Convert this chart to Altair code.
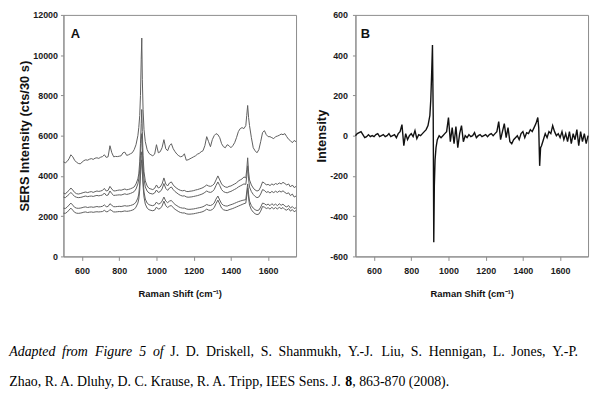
import altair as alt
import pandas as pd

# Raman shift sampling positions (cm^-1)
shift = [500, 510, 520, 530, 540, 550, 560, 570, 580, 590,
         600, 610, 620, 630, 640, 650, 660, 670, 680, 690,
         700, 710, 720, 730, 740, 750, 760, 770, 780, 790,
         800, 810, 820, 830, 840, 850, 860, 870, 880,
         890, 900, 905, 910, 914, 918, 921, 924, 928, 933, 940, 950,
         960, 970, 980, 990, 1000, 1010, 1020, 1030, 1040, 1050,
         1060, 1070, 1080, 1090, 1100, 1110, 1120, 1130, 1140, 1150,
         1160, 1170, 1180, 1190, 1200, 1210, 1220, 1230, 1240, 1250,
         1260, 1270, 1280, 1290, 1300, 1310, 1320, 1330, 1340, 1350,
         1360, 1370, 1380, 1390, 1400, 1410, 1420, 1430, 1440, 1450,
         1460, 1470,
         1480, 1485, 1490, 1495, 1500,
         1510, 1520, 1530, 1540, 1550, 1560, 1570, 1580, 1590, 1600,
         1610, 1620, 1630, 1640, 1650, 1660, 1670, 1680, 1690, 1700,
         1710, 1720, 1730, 1740, 1750]

# Panel A: SERS spectra (cts/30 s)
spec1 = [4700, 4650, 4720, 4850, 5050, 4950, 4780, 4680, 4620, 4600,
         4680, 4760, 4800, 4780, 4830, 4860, 4820, 4880, 4900, 4870,
         4930, 4960, 5050, 4920, 4950, 5500, 5150, 4950, 4970, 4960,
         4980, 5000, 5150, 5180, 5020, 5050, 5100, 5150, 5300,
         5550, 6000, 6400, 7000, 8000, 9800, 10850, 8800, 7300, 6300, 5700, 5300,
         5120, 5050, 5000, 5080, 5550, 5150, 5200, 5400, 5800, 5350,
         5250, 5500, 5600, 5350, 5200, 5080, 5000, 4950, 4980, 5100,
         4780, 4800, 4850, 4900, 4950, 5000, 5080, 5120, 5200, 5250,
         5500, 5950, 5700, 5450, 5800, 6000, 6100, 6050, 5900, 5600,
         5450, 5400, 5550, 5500, 5400, 5500, 5650, 5900, 6200, 6350,
         6400, 6350,
         6500, 7000, 7500, 6900, 6500,
         5900, 5400, 5250, 5150, 5300, 5700, 6150, 6250, 6050, 5950,
         5950, 5900, 5850, 5950, 5980, 6020, 6080, 6050, 6100, 5950,
         5820, 5750, 5650, 5760, 5700]
spec2 = [3150, 3100, 3200, 3280, 3400, 3300, 3180, 3120, 3100, 3120,
         3150, 3180, 3200, 3170, 3200, 3220, 3180, 3220, 3250, 3230,
         3250, 3280, 3380, 3250, 3280, 3480, 3350, 3250, 3260, 3280,
         3300, 3290, 3320, 3350, 3310, 3330, 3360, 3400, 3450,
         3600, 3850, 4100, 4700, 5600, 6600, 7300, 6200, 5000, 4200, 3750, 3500,
         3380, 3350, 3320, 3380, 3550, 3400, 3450, 3600, 3900, 3600,
         3500, 3650, 3700, 3550, 3450, 3380, 3320, 3280, 3260, 3280,
         3230, 3220, 3240, 3250, 3270, 3300, 3320, 3350, 3380, 3420,
         3480, 3550, 3500, 3480, 3520, 3600, 3800, 4000, 3800, 3600,
         3500, 3450, 3430, 3480, 3500, 3550, 3600, 3650, 3750, 3800,
         3850, 3950,
         3900, 4300, 4900, 4200, 3800,
         3550, 3400, 3300, 3250, 3280, 3450, 3700, 3650, 3550, 3580,
         3520, 3600, 3550, 3620, 3580, 3650, 3600, 3680, 3620, 3550,
         3600, 3450, 3550, 3420, 3480]
spec3 = [2950, 2920, 3000, 3080, 3180, 3080, 2980, 2940, 2920, 2930,
         2950, 2980, 3000, 2970, 2990, 3000, 2980, 3010, 3030, 3010,
         3030, 3050, 3150, 3030, 3050, 3250, 3120, 3030, 3040, 3050,
         3060, 3050, 3080, 3110, 3080, 3100, 3130, 3170, 3220,
         3350, 3600, 3850, 4300, 5000, 5800, 6100, 5400, 4500, 3850, 3450, 3250,
         3150, 3120, 3100, 3150, 3300, 3180, 3220, 3350, 3620, 3380,
         3280, 3400, 3450, 3320, 3220, 3150, 3080, 3030, 3000, 3010,
         2960, 2940, 2950, 2960, 2980, 3000, 3020, 3050, 3080, 3120,
         3180, 3250, 3200, 3180, 3220, 3320, 3520, 3700, 3520, 3320,
         3220, 3180, 3160, 3200, 3230, 3280, 3330, 3380, 3450, 3500,
         3550, 3600,
         3580, 3950, 4500, 3850, 3450,
         3220, 3080, 2980, 2920, 2950, 3100, 3320, 3280, 3180, 3220,
         3150, 3230, 3170, 3240, 3180, 3250, 3200, 3260, 3180, 3120,
         3160, 3020, 3100, 2950, 3000]
spec4 = [2400, 2380, 2450, 2550, 2650, 2550, 2440, 2400, 2390, 2400,
         2420, 2450, 2460, 2430, 2450, 2460, 2440, 2460, 2480, 2460,
         2470, 2490, 2560, 2470, 2480, 2620, 2540, 2470, 2470, 2480,
         2490, 2480, 2500, 2520, 2500, 2510, 2530, 2560, 2600,
         2700, 2900, 3100, 3600, 4300, 5000, 5200, 4600, 3800, 3200, 2850, 2650,
         2570, 2540, 2520, 2560, 2700, 2600, 2630, 2750, 2950, 2750,
         2670, 2750, 2780, 2670, 2580, 2520, 2460, 2420, 2400, 2400,
         2360, 2340, 2340, 2350, 2360, 2380, 2400, 2420, 2440, 2470,
         2520, 2580, 2540, 2530, 2570, 2650, 2850, 3000, 2800, 2620,
         2540, 2510, 2500, 2540, 2570, 2600, 2640, 2680, 2720, 2750,
         2780, 2800,
         2820, 3200, 3600, 3100, 2750,
         2520, 2400, 2320, 2280, 2300, 2450, 2650, 2620, 2550, 2600,
         2520, 2620, 2540, 2600, 2520, 2620, 2540, 2600, 2500, 2460,
         2530, 2400, 2480, 2380, 2420]
spec5 = [2150, 2140, 2200, 2300, 2400, 2300, 2190, 2150, 2140, 2150,
         2170, 2200, 2210, 2180, 2200, 2210, 2190, 2210, 2220, 2210,
         2220, 2230, 2290, 2220, 2230, 2330, 2270, 2210, 2210, 2220,
         2230, 2220, 2240, 2260, 2240, 2250, 2270, 2300, 2340,
         2450, 2650, 2850, 3300, 4000, 4600, 4800, 4200, 3500, 2950, 2600, 2400,
         2320, 2290, 2270, 2300, 2450, 2350, 2380, 2500, 2750, 2520,
         2430, 2500, 2530, 2420, 2340, 2280, 2220, 2180, 2160, 2160,
         2120, 2100, 2100, 2110, 2120, 2140, 2160, 2180, 2200, 2230,
         2280, 2350, 2300, 2290, 2330, 2420, 2620, 2800, 2600, 2400,
         2320, 2290, 2280, 2320, 2350, 2380, 2420, 2460, 2500, 2540,
         2580, 2620,
         2650, 3000, 3400, 2900, 2550,
         2320, 2200, 2120, 2080, 2100, 2250, 2480, 2450, 2380, 2420,
         2350, 2440, 2360, 2430, 2350, 2450, 2370, 2430, 2330, 2300,
         2380, 2250, 2330, 2220, 2280]

# Panel B: difference spectrum
diff = [0, 10, 15, 20, 5, -10, -5, 5, -5, 0,
        -5, 5, 10, -5, 0, 5, -5, 0, 10, -5,
        0, 5, -10, 10, 20, 55, -50, 10, -20, 0,
        10, -5, 25, -15, 5, 0, 10, 20, 30,
        50, 100, 180, 320, 450, 100, -530, -250, -120, -60, -20, 0,
        -10, 0, 10, 20, 90, -30, 40, -40, 45, -60,
        10, 50, -30, 0, -10, 5, -5, 0, 15, -10,
        0, 5, -5, 0, 5, -5, 5, 10, 0, 10,
        20, 70, -20, 20, 60, -10, 40, -30, -40, -20,
        -10, 0, -20, 10, 20, -10, 15, 10, 30, 20,
        40, 60,
        90, 40, -150, -60, -50,
        -20, 10, -10, 20, 10, 50, 20, 0, 10, -10,
        20, -20, 10, -30, 20, -40, 10, -20, 30, -50,
        20, -30, 10, -40, 0]

x_ticks = [600, 800, 1000, 1200, 1400, 1600]
yA_ticks = [0, 2000, 4000, 6000, 8000, 10000, 12000]
yB_ticks = [-600, -400, -200, 0, 200, 400, 600]
x_title = "Raman Shift (cm⁻¹)"
yA_title = "SERS Intensity (cts/30 s)"
yB_title = "Intensity"

# Caption (first line is justified, so split into words)
cap1_words = ["Adapted", "from", "Figure", "5", "of", "J.", "D.", "Driskell,", "S.",
              "Shanmukh,", "Y.-J.", "Liu,", "S.", "Hennigan,", "L.", "Jones,", "Y.-P."]
cap1_italic = [True, True, True, True, True] + [False] * 12
cap2a = "Zhao, R. A. Dluhy, D. C. Krause, R. A. Tripp, IEES Sens. J."
cap2b = "8"
cap2c = ", 863-870 (2008)."

series = {"s1": spec1, "s2": spec2, "s3": spec3, "s4": spec4, "s5": spec5}
for ys in list(series.values()) + [diff]:
    assert len(ys) == len(shift)

rows = []
for name, ys in series.items():
    for x, y in zip(shift, ys):
        rows.append({"shift": x, "intensity": y, "spectrum": name})
dfA = pd.DataFrame(rows)
dfB = pd.DataFrame({"shift": shift, "intensity": diff})

LABEL_FONT = "Liberation Sans, Arial, sans-serif"
TITLE_FONT = "Liberation Sans, Arial, sans-serif"
SERIF = "Liberation Serif, Times New Roman, serif"
FRAME = "#8c8c8c"


def axis(values, title, tick, lpad, tpad, tsize):
    return alt.Axis(values=values, title=title, grid=False,
                    labelExpr="'' + datum.value",
                    labelFont=LABEL_FONT, labelFontSize=9, labelFontWeight="bold",
                    labelColor="#1a1a1a", titleFont=TITLE_FONT, titleFontSize=tsize,
                    titleFontWeight="bold", titleColor="#111",
                    domainColor=FRAME, tickColor=FRAME, tickSize=tick,
                    labelPadding=lpad, titlePadding=tpad)


x_scale = alt.Scale(domain=[500, 1750], nice=False, zero=False)
x_axis = axis(x_ticks, x_title, 4, 6, 14, 9.5)


def label(txt, x, y, size=13, weight="bold", style="normal", font=TITLE_FONT, color="#111"):
    return alt.Chart(pd.DataFrame({"t": [txt]})).mark_text(
        align="left", baseline="middle", fontSize=size, fontWeight=weight,
        fontStyle=style, font=font, color=color
    ).encode(text="t:N", x=alt.value(x), y=alt.value(y))


# --- caption layout (Times metrics, units per 1000 em) ---
FS = 14
word_w = {"Adapted": 3333, "from": 1889, "Figure": 2722, "5": 500, "of": 778,
          "J.": 639, "D.": 972, "Driskell,": 3472, "S.": 806, "Shanmukh,": 4528,
          "Y.-J.": 1944, "Liu,": 1639, "Hennigan,": 4138, "L.": 861, "Jones,": 2472,
          "Y.-P.": 2111}
cap_x = -54.7
line_width = 578
total_w = sum(word_w[w] for w in cap1_words) * FS / 1000
gap = (line_width - total_w) / (len(cap1_words) - 1)
cap_y1 = 341
cap_y2 = 371

caption_layers = []
pos = cap_x
for w, it in zip(cap1_words, cap1_italic):
    caption_layers.append(label(w, pos, cap_y1, size=FS, weight="normal",
                                style="italic" if it else "normal", font=SERIF, color="#000"))
    pos += word_w[w] * FS / 1000 + gap
caption_layers.append(label(cap2a, cap_x, cap_y2, size=FS, weight="normal", font=SERIF, color="#000"))
caption_layers.append(label(cap2b, cap_x + 339.5, cap_y2, size=FS, weight="bold", font=SERIF, color="#000"))
caption_layers.append(label(cap2c, cap_x + 346.5, cap_y2, size=FS, weight="normal", font=SERIF, color="#000"))

linesA = alt.Chart(dfA).mark_line(color="#5e5e5e", strokeWidth=1).encode(
    x=alt.X("shift:Q", scale=x_scale, axis=x_axis),
    y=alt.Y("intensity:Q", scale=alt.Scale(domain=[0, 12000], nice=False),
            axis=axis(yA_ticks, yA_title, 3, 3, 1, 13)),
    detail="spectrum:N",
)

panelA = alt.layer(
    linesA, label("A", 7.3, 19.5), *caption_layers
).properties(width=235, height=244)

lineB = alt.Chart(dfB).mark_line(color="#111", strokeWidth=1.4).encode(
    x=alt.X("shift:Q", scale=x_scale, axis=x_axis),
    y=alt.Y("intensity:Q", scale=alt.Scale(domain=[-600, 600], nice=False),
            axis=axis(yB_ticks, yB_title, 3, 5, 1, 13)),
)

panelB = alt.layer(lineB, label("B", 5.3, 19.5)).properties(width=235, height=244)

chart = alt.hconcat(panelA, panelB, spacing=60, bounds="flush").properties(
    padding={"left": 0, "top": 0, "right": 0, "bottom": 0}
).configure_view(stroke=FRAME, strokeWidth=1)

chart.save("out.html", embed_options={"renderer": "svg", "actions": False})
